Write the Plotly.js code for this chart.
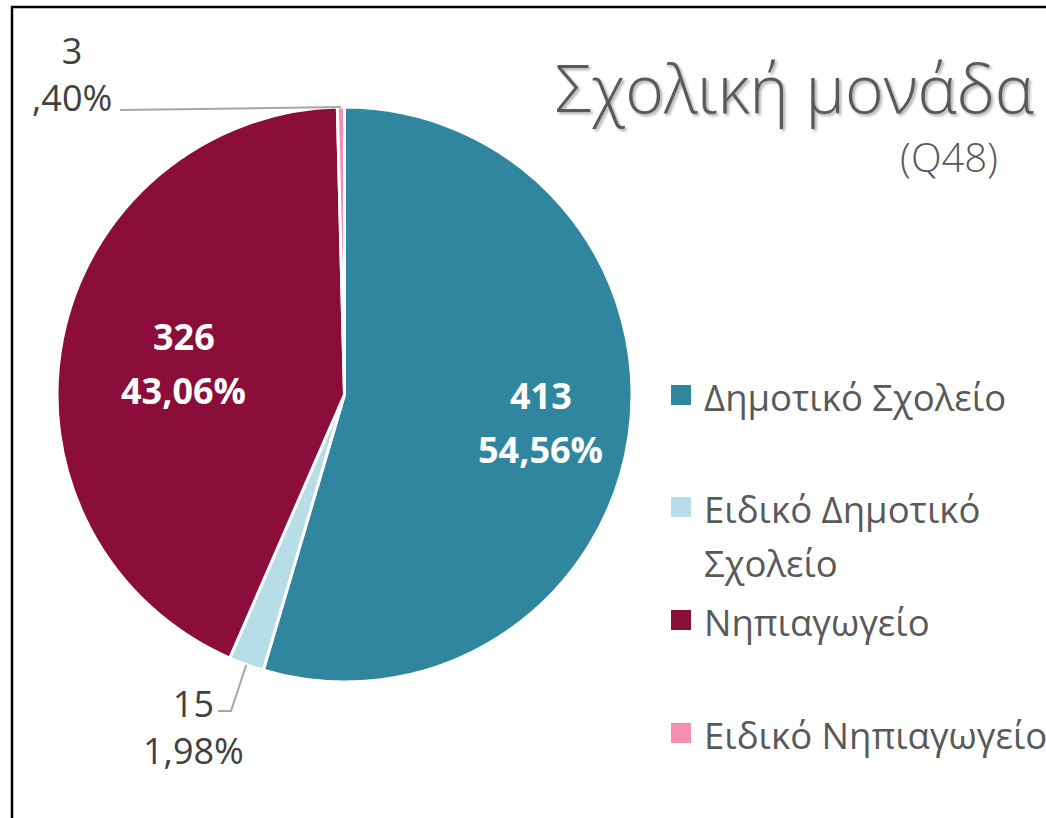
<!DOCTYPE html>
<html>
<head>
<meta charset="utf-8">
<script src="https://cdn.plot.ly/plotly-3.0.1.min.js"></script>
<style>
  html, body { margin: 0; padding: 0; background: #fff; }
  #chart { width: 1046px; height: 818px; }
</style>
</head>
<body>
<div id="chart"></div>
<script>
const labels = ['Δημοτικό Σχολείο', 'Ειδικό Δημοτικό<br>Σχολείο', 'Νηπιαγωγείο', 'Ειδικό Νηπιαγωγείο'];
const counts = [413, 15, 326, 3];
const colors = ['#31869F', '#B6DDE8', '#8B0D3A', '#F48FB3'];
const titleText = 'Σχολική μονάδα';
const subtitleText = '(Q48)';

const W = 1046, H = 818;
const cx = 344.5, cy = 394.5, R = 287.5;
const px = x => x / W;
const py = y => 1 - y / H;

const total = counts.reduce((a, b) => a + b, 0);
// Excel showed the small share as ",40%" so drop the leading zero
const pctText = v => (v / total * 100).toFixed(2).replace('.', ',').replace(/^0/, '') + '%';

// point at radius k*R on the middle of slice i (clockwise from 12 o'clock)
function slicePoint(i, k) {
    const before = counts.slice(0, i).reduce((a, b) => a + b, 0);
    const ang = (before + counts[i] / 2) / total * 2 * Math.PI;
    return [cx + k * R * Math.sin(ang), cy - k * R * Math.cos(ang)];
}

const greyText = '#595959';
const labelFont = { family: 'Open Sans, sans-serif', size: 36, color: '#404040' };
const insideFont = { family: 'Open Sans, sans-serif', size: 36, color: '#fff', weight: 'bold' };
const legendFont = { family: 'Open Sans, sans-serif', size: 36.5, color: greyText };

const pie = {
    type: 'pie',
    labels: labels,
    values: counts,
    sort: false,
    direction: 'clockwise',
    rotation: 0,
    marker: { colors: colors, line: { color: '#fff', width: 3 } },
    textinfo: 'none',
    hoverinfo: 'label+value+percent',
    domain: { x: [px(cx - R), px(cx + R)], y: [py(cy + R), py(cy - R)] }
};

const annotations = [];
const shapes = [];

// inside labels for the two big slices (value on one line, share below)
[[0, 0.69], [2, 0.57]].forEach(([i, k]) => {
    const p = slicePoint(i, k);
    annotations.push({
        xref: 'paper', yref: 'paper', x: px(p[0]), y: py(p[1] - 27),
        text: String(counts[i]), showarrow: false, xanchor: 'center', yanchor: 'middle', font: insideFont
    });
    annotations.push({
        xref: 'paper', yref: 'paper', x: px(p[0]), y: py(p[1] + 27),
        text: pctText(counts[i]), showarrow: false, xanchor: 'center', yanchor: 'middle', font: insideFont
    });
});

// outside labels for the two thin slices
const p3 = slicePoint(3, 1);
annotations.push({
    xref: 'paper', yref: 'paper', x: px(72), y: py(74),
    text: counts[3] + '<br>' + pctText(counts[3]),
    showarrow: false, xanchor: 'center', yanchor: 'middle', align: 'center', font: labelFont
});
shapes.push({
    type: 'path', xref: 'paper', yref: 'paper',
    path: `M ${px(120)} ${py(110)} L ${px(p3[0])} ${py(p3[1])}`,
    line: { color: '#A6A6A6', width: 2 }
});

const p1 = slicePoint(1, 1);
annotations.push({
    xref: 'paper', yref: 'paper', x: px(193), y: py(727),
    text: counts[1] + '<br>' + pctText(counts[1]),
    showarrow: false, xanchor: 'center', yanchor: 'middle', align: 'center', font: labelFont
});
shapes.push({
    type: 'path', xref: 'paper', yref: 'paper',
    path: `M ${px(218)} ${py(711)} L ${px(231)} ${py(711)} L ${px(p1[0])} ${py(p1[1])}`,
    line: { color: '#A6A6A6', width: 2 }
});

// legend, laid out like the Excel one
const legendY = [395, 507, 620, 733];
labels.forEach((lab, i) => {
    shapes.push({
        type: 'rect', xref: 'paper', yref: 'paper',
        x0: px(671), x1: px(691), y0: py(legendY[i] - 10), y1: py(legendY[i] + 10),
        fillcolor: colors[i], line: { width: 0 }
    });
    lab.split('<br>').forEach((line, j) => {
        annotations.push({
            xref: 'paper', yref: 'paper', x: px(702), y: py(legendY[i] + 2 + j * 54),
            text: line, showarrow: false, xanchor: 'left', yanchor: 'middle', font: legendFont
        });
    });
});

// title
annotations.push({
    xref: 'paper', yref: 'paper', x: px(553), y: py(87),
    text: titleText, showarrow: false, xanchor: 'left', yanchor: 'middle',
    font: { family: 'Open Sans, sans-serif', size: 66, color: greyText, weight: 300,
            shadow: '2px 2px 3px rgba(0,0,0,0.35)' }
});
annotations.push({
    xref: 'paper', yref: 'paper', x: px(1000), y: py(156),
    text: subtitleText, showarrow: false, xanchor: 'right', yanchor: 'middle',
    font: { family: 'Open Sans, sans-serif', size: 40, color: greyText, weight: 300 }
});

// chart area border (cut off at right and bottom)
shapes.push({
    type: 'rect', xref: 'paper', yref: 'paper',
    x0: px(12), x1: px(1080), y0: py(7), y1: py(860),
    line: { color: '#000', width: 2.5 }, layer: 'above'
});

const layout = {
    width: W, height: H,
    margin: { l: 0, r: 0, t: 0, b: 0 },
    paper_bgcolor: '#fff',
    showlegend: false,
    annotations: annotations,
    shapes: shapes
};

Plotly.newPlot('chart', [pie], layout, { displayModeBar: false, staticPlot: true });
</script>
</body>
</html>
